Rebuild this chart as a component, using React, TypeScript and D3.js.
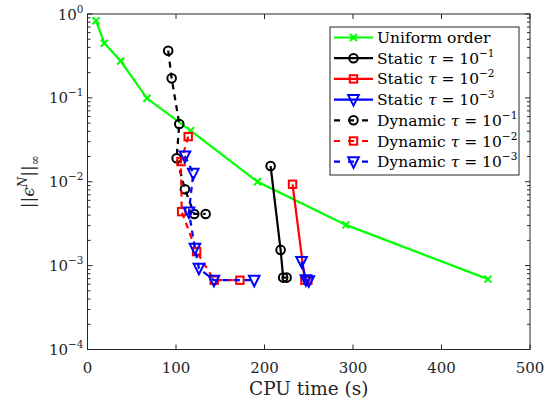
import React from "react";
import * as d3 from "d3";

const uniformT = [9.6, 19, 37.5, 67.2, 116.5, 192.2, 292, 452.6];
const uniformE = [0.832, 0.448, 0.275, 0.0989, 0.0407, 0.01, 0.00306, 0.00069];

const static1T = [206.9, 218.2, 221.1, 225];
const static1E = [0.0154, 0.00154, 0.00072, 0.00072];
const static2T = [231.7, 245.6, 249];
const static2E = [0.00933, 0.00067, 0.00067];
const static3T = [241.9, 246.8, 250];
const static3E = [0.00112, 0.00068, 0.00066];

const dyn1T = [91.2, 95.1, 103.7, 100.7, 110.1, 120.6, 133.5];
const dyn1E = [0.365, 0.171, 0.0489, 0.0191, 0.00814, 0.00413, 0.00413];
const dyn2T = [113.8, 105.6, 106.4, 123.3, 143.2, 172.2];
const dyn2E = [0.0345, 0.0174, 0.0044, 0.00147, 0.00067, 0.00067];
const dyn3T = [110.1, 119.5, 114.6, 121.4, 125.9, 142.9, 188.4];
const dyn3E = [0.0203, 0.0126, 0.00436, 0.00161, 0.00093, 0.00067, 0.00067];

const xTicks = [0, 100, 200, 300, 400, 500];
const yTickExp = [0, -1, -2, -3, -4];
const legendNames = ["Uniform order", "Static", "Static", "Static", "Dynamic", "Dynamic", "Dynamic"];
const legendExp = ["", "1", "2", "3", "1", "2", "3"];

type Marker = "x" | "o" | "s" | "v";
interface Series { t: number[]; e: number[]; color: string; dash: boolean; marker: Marker; }

const series: Series[] = [
  { t: uniformT, e: uniformE, color: "#00ff00", dash: false, marker: "x" },
  { t: static1T, e: static1E, color: "#000000", dash: false, marker: "o" },
  { t: static2T, e: static2E, color: "#ff0000", dash: false, marker: "s" },
  { t: static3T, e: static3E, color: "#0000ff", dash: false, marker: "v" },
  { t: dyn1T, e: dyn1E, color: "#000000", dash: true, marker: "o" },
  { t: dyn2T, e: dyn2E, color: "#ff0000", dash: true, marker: "s" },
  { t: dyn3T, e: dyn3E, color: "#0000ff", dash: true, marker: "v" },
];

const L = 87.5, R = 530, T = 14, B = 349.5;
const FONT = "DejaVu Serif";
const GRAY = "#262626";

function MarkerShape({ m, x, y, color }: { m: Marker; x: number; y: number; color: string }) {
  const sw = 2;
  if (m === "x") {
    const s = 3.5;
    return (
      <path d={`M${x - s},${y - s}L${x + s},${y + s}M${x - s},${y + s}L${x + s},${y - s}`} stroke={color} strokeWidth={sw} fill="none" />
    );
  }
  if (m === "o") return <circle cx={x} cy={y} r={4.3} stroke={color} strokeWidth={sw} fill="none" />;
  if (m === "s") return <rect x={x - 3.7} y={y - 3.7} width={7.4} height={7.4} stroke={color} strokeWidth={sw} fill="none" />;
  const w = 5.3, h = 4.5;
  return <path d={`M${x - w},${y - h}L${x + w},${y - h}L${x},${y + h + 1.5}Z`} stroke={color} strokeWidth={sw} fill="none" strokeLinejoin="miter" />;
}

export default function App() {
  const xs = d3.scaleLinear().domain([0, 500]).range([L, R]);
  const ys = d3.scaleLog().domain([1e-4, 1]).range([B, T]);
  const line = d3.line<[number, number]>().x((d) => xs(d[0])).y((d) => ys(d[1]));

  const minor: number[] = [];
  for (let p = -4; p < 0; p++) for (let k = 2; k <= 9; k++) minor.push(k * Math.pow(10, p));

  const lx0 = 330, ly0 = 27, lw = 189, lh = 148;
  const rowY = (i: number) => 37.5 + i * 20.7;

  return (
    <svg width={555} height={406} fontFamily={FONT} style={{ position: "absolute", left: 0, top: 0, background: "#fff" }}>
      <rect x={0} y={0} width={555} height={406} fill="#fff" />
      <g>
        {series.map((s, i) => {
          const pts = s.t.map((t, j) => [t, s.e[j]] as [number, number]);
          return (
            <g key={i}>
              <path d={line(pts) || ""} fill="none" stroke={s.color} strokeWidth={2.2} strokeDasharray={s.dash ? "6,5" : undefined} />
              {pts.map((p, j) => (
                <MarkerShape key={j} m={s.marker} x={xs(p[0])} y={ys(p[1])} color={s.color} />
              ))}
            </g>
          );
        })}
      </g>
      <rect x={L} y={T} width={R - L} height={B - T} fill="none" stroke={GRAY} strokeWidth={1} />
      {xTicks.map((t) => (
        <g key={t}>
          <line x1={xs(t)} x2={xs(t)} y1={B} y2={B - 5} stroke={GRAY} />
          <line x1={xs(t)} x2={xs(t)} y1={T} y2={T + 5} stroke={GRAY} />
          <text x={xs(t)} y={B + 23} textAnchor="middle" fontSize={15} fill={GRAY} fontFamily={FONT}>{t}</text>
        </g>
      ))}
      {yTickExp.map((p) => {
        const y = ys(Math.pow(10, p));
        return (
          <g key={p}>
            <line x1={L} x2={L + 5} y1={y} y2={y} stroke={GRAY} />
            <line x1={R} x2={R - 5} y1={y} y2={y} stroke={GRAY} />
            <text x={L - 4} y={y + 5.5} textAnchor="end" fontSize={15} fill={GRAY} fontFamily={FONT}>
              10<tspan dy={-7} fontSize={10.5}>{p === 0 ? "0" : "\u2212" + Math.abs(p)}</tspan>
            </text>
          </g>
        );
      })}
      {minor.map((v, i) => (
        <g key={i}>
          <line x1={L} x2={L + 3} y1={ys(v)} y2={ys(v)} stroke={GRAY} />
          <line x1={R} x2={R - 3} y1={ys(v)} y2={ys(v)} stroke={GRAY} />
        </g>
      ))}
      <text x={(L + R) / 2} y={395} textAnchor="middle" fontSize={18.5} fill={GRAY} fontFamily={FONT}>CPU time (s)</text>
      <text transform={`translate(34,${(T + B) / 2}) rotate(-90)`} textAnchor="middle" fontSize={17} fill={GRAY} fontFamily={FONT}>
        ||<tspan fontStyle="italic">ϵ</tspan><tspan dy={-7} fontSize={12} fontStyle="italic">N</tspan><tspan dy={7}>||</tspan><tspan dy={5} fontSize={12}>∞</tspan>
      </text>
      <rect x={lx0} y={ly0} width={lw} height={lh} fill="#fff" stroke={GRAY} strokeWidth={1} />
      {series.map((s, i) => {
        const y = rowY(i);
        return (
          <g key={i}>
            <line x1={334} x2={373} y1={y} y2={y} stroke={s.color} strokeWidth={2.2} strokeDasharray={s.dash ? "6,8" : undefined} />
            <MarkerShape m={s.marker} x={353.5} y={y} color={s.color} />
            <text x={377} y={y + 5.5} fontSize={15.5} fill="#000" fontFamily={FONT}>
              {legendNames[i]}
              {i > 0 && (
                <>
                  {" "}<tspan fontStyle="italic">τ</tspan> = 10<tspan dy={-7} fontSize={10.5}>{"\u2212" + legendExp[i]}</tspan>
                </>
              )}
            </text>
          </g>
        );
      })}
    </svg>
  );
}
